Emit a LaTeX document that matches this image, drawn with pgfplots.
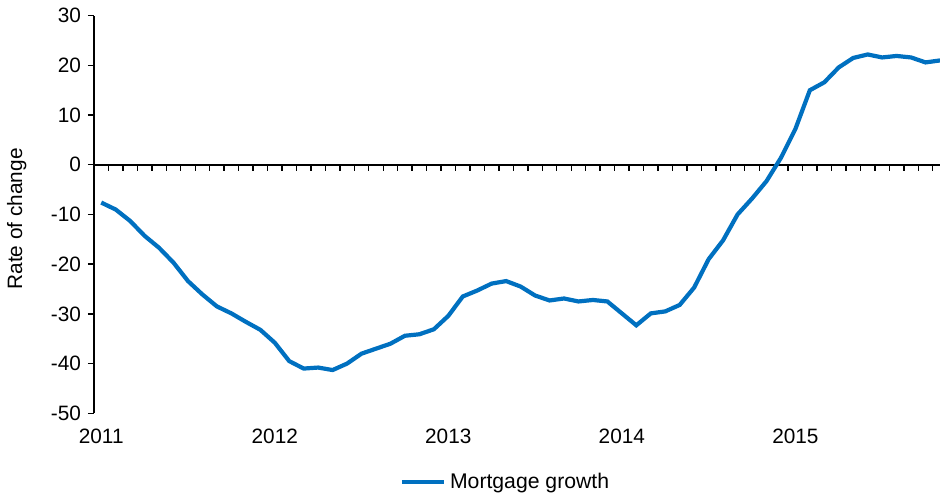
\documentclass[border=0pt]{standalone}
\usepackage{fontspec}
\setmainfont{Liberation Sans}
\usepackage{pgfplots}
\pgfplotsset{compat=1.18}
\usepackage{pgfplotstable}

\definecolor{mortblue}{RGB}{0,112,192}

% monthly series, 0 = Jan 2011
\pgfplotstableread{
m   v
0   -7.6
1   -9.0
2   -11.3
3   -14.3
4   -16.7
5   -19.7
6   -23.4
7   -26.1
8   -28.5
9   -29.9
10  -31.6
11  -33.2
12  -35.8
13  -39.5
14  -41.0
15  -40.8
16  -41.3
17  -40.0
18  -38.0
19  -37.0
20  -36.0
21  -34.4
22  -34.1
23  -33.1
24  -30.4
25  -26.5
26  -25.3
27  -23.9
28  -23.4
29  -24.5
30  -26.3
31  -27.3
32  -26.9
33  -27.5
34  -27.2
35  -27.5
36  -29.9
37  -32.3
38  -29.9
39  -29.5
40  -28.2
41  -24.7
42  -19.0
43  -15.2
44  -10.0
45  -6.8
46  -3.3
47  1.4
48  7.2
49  15.0
50  16.6
51  19.6
52  21.5
53  22.2
54  21.6
55  21.9
56  21.6
57  20.6
58  21.0
}\mortgage

\begin{document}
\begin{tikzpicture}[font=\fontsize{10.4}{12}\selectfont]
\begin{axis}[
    name=ax,
    scale only axis,
    width=423pt, height=198.8pt,
    xmin=-0.5, xmax=58,
    ymin=-50, ymax=30,
    axis x line=middle,
    axis y line=left,
    axis line style={-, black, line width=0.7pt},
    ytick={-50,-40,...,30},
    ytick align=outside,
    xtick align=outside,
    tick style={black, line width=0.7pt},
    major tick length=3pt,
    minor tick length=3pt,
    xtick={0,12,24,36,48},
    xticklabels={2011,2012,2013,2014,2015},
    major x tick style={draw=none},
    minor xtick={-0.5,0.5,...,57.6},
    xticklabel style={yshift=-125.5pt},
    /pgf/number format/assume math mode=true,
    ylabel={Rate of change},
    ylabel style={at={(axis description cs:-0.0914,0.489)}, anchor=center},
    legend style={draw=none, fill=none, at={(axis description cs:0.4876,-0.1728)},
      anchor=center, font=\fontsize{10.6}{12}\selectfont},
    legend image code/.code={\draw[#1] (0pt,0pt) -- (21pt,0pt);},
  ]
  \draw[black, line width=0.8pt] (axis cs:-0.5,0) -- (axis cs:58,0);
  \addplot[mortblue, line width=2.1pt] table[x=m, y=v] {\mortgage};
  \addlegendentry{Mortgage growth}
\end{axis}
\pgfresetboundingbox
\path[use as bounding box] ([shift={(-47pt,-40.85pt)}]ax.south west)
  rectangle ([shift={(0pt,7.85pt)}]ax.north east);
\end{tikzpicture}
\end{document}
